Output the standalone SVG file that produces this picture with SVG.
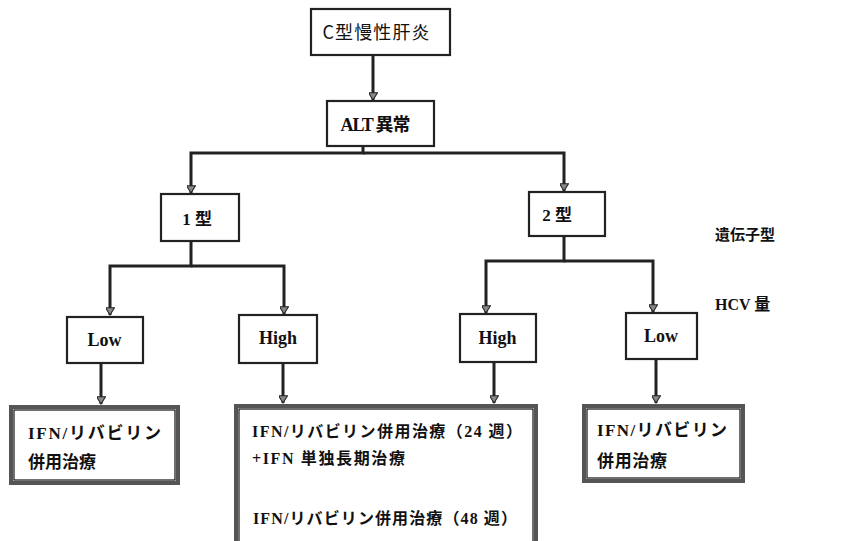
<svg xmlns="http://www.w3.org/2000/svg" width="842" height="541" viewBox="0 0 842 541">
<defs>
<style>
.box{fill:#fff;stroke:#222;stroke-width:2.2}
.res{fill:#fff;stroke:#555;stroke-width:4}
.resin{fill:none;stroke:#111;stroke-width:1.2}
.ln{fill:none;stroke:#222;stroke-width:3}
.t{font-family:"Liberation Serif","Noto Sans CJK JP",serif;fill:#111}
.jp{font-family:"Noto Sans CJK JP",sans-serif;fill:#111}
.lat{font-family:"Liberation Serif",serif;font-weight:bold;font-size:18px;fill:#111;text-anchor:middle}
.r{font-family:"Liberation Serif","Noto Sans CJK JP",serif;font-weight:bold;fill:#111}
</style>
<marker id="ah" viewBox="0 0 10 10" refX="9" refY="5" markerWidth="9" markerHeight="9" markerUnits="userSpaceOnUse" orient="auto">
<path d="M1,0 L9,5 L1,10 Z" fill="#888" stroke="#222" stroke-width="1.2"/>
</marker>
</defs>

<g id="connectors">
<path class="ln" d="M373,55 V100" marker-end="url(#ah)"/>
<path class="ln" d="M363,146 V153 H191 V193" marker-end="url(#ah)"/>
<path class="ln" d="M363,153 H564 V191" marker-end="url(#ah)"/>
<path class="ln" d="M191,241 V266 H110 V315" marker-end="url(#ah)"/>
<path class="ln" d="M191,266 H284 V314" marker-end="url(#ah)"/>
<path class="ln" d="M564,236 V261 H486 V313" marker-end="url(#ah)"/>
<path class="ln" d="M564,261 H653 V312" marker-end="url(#ah)"/>
<path class="ln" d="M101,363 V404" marker-end="url(#ah)"/>
<path class="ln" d="M283,363 V403" marker-end="url(#ah)"/>
<path class="ln" d="M494,362 V403" marker-end="url(#ah)"/>
<path class="ln" d="M656,359 V403" marker-end="url(#ah)"/>
</g>

<g id="n-hepc">
<rect class="box" x="311" y="9" width="139" height="46"/>
<text class="jp" x="376" y="39" font-size="18" text-anchor="middle" textLength="107">C型慢性肝炎</text>
</g>
<g id="n-alt">
<rect class="box" x="327" y="101" width="107" height="45"/>
<text class="t" x="375.5" y="131" font-size="18" font-weight="bold" text-anchor="middle" textLength="70">ALT 異常</text>
</g>
<g id="n-type1">
<rect class="box" x="161" y="194" width="78" height="47"/>
<text class="t" x="197" y="225" font-size="17" font-weight="bold" text-anchor="middle">1 型</text>
</g>
<g id="n-type2">
<rect class="box" x="529" y="192" width="76" height="44"/>
<text class="t" x="557" y="221" font-size="17" font-weight="bold" text-anchor="middle">2 型</text>
</g>
<g id="n-low1">
<rect class="box" x="67" y="317" width="76" height="46"/>
<text class="lat" x="104.5" y="346">Low</text>
</g>
<g id="n-high1">
<rect class="box" x="239" y="315" width="78" height="48"/>
<text class="lat" x="278" y="344">High</text>
</g>
<g id="n-high2">
<rect class="box" x="460" y="314" width="76" height="48"/>
<text class="lat" x="497.5" y="344">High</text>
</g>
<g id="n-low2">
<rect class="box" x="626" y="313" width="71" height="46"/>
<text class="lat" x="661" y="342">Low</text>
</g>

<g id="lbl-genotype">
<text class="jp" x="715" y="240" font-size="15" font-weight="bold">遺伝子型</text>
</g>
<g id="lbl-hcv">
<text class="t" x="715" y="310" font-size="16" font-weight="bold">HCV 量</text>
</g>

<g id="r-left">
<rect class="res" x="11" y="407" width="167" height="76"/>
<rect class="resin" x="14" y="410" width="161" height="70"/>
<text class="r" x="28" y="439" font-size="17" textLength="133" lengthAdjust="spacing">IFN/リバビリン</text>
<text class="r" x="28" y="468" font-size="17" textLength="68" lengthAdjust="spacing">併用治療</text>
</g>
<g id="r-mid">
<rect class="res" x="236" y="406" width="300" height="160"/>
<rect class="resin" x="239" y="409" width="294" height="154"/>
<text class="r" x="252" y="437" font-size="16" textLength="270" lengthAdjust="spacing">IFN/リバビリン併用治療（24 週）</text>
<text class="r" x="252" y="464" font-size="16" textLength="153" lengthAdjust="spacing">+IFN 単独長期治療</text>
<text class="r" x="253" y="524" font-size="16" textLength="264" lengthAdjust="spacing">IFN/リバビリン併用治療（48 週）</text>
</g>
<g id="r-right">
<rect class="res" x="584" y="406" width="159" height="75"/>
<rect class="resin" x="587" y="409" width="153" height="69"/>
<text class="r" x="597" y="436" font-size="17" textLength="130" lengthAdjust="spacing">IFN/リバビリン</text>
<text class="r" x="597" y="467" font-size="17" textLength="70" lengthAdjust="spacing">併用治療</text>
</g>
</svg>
